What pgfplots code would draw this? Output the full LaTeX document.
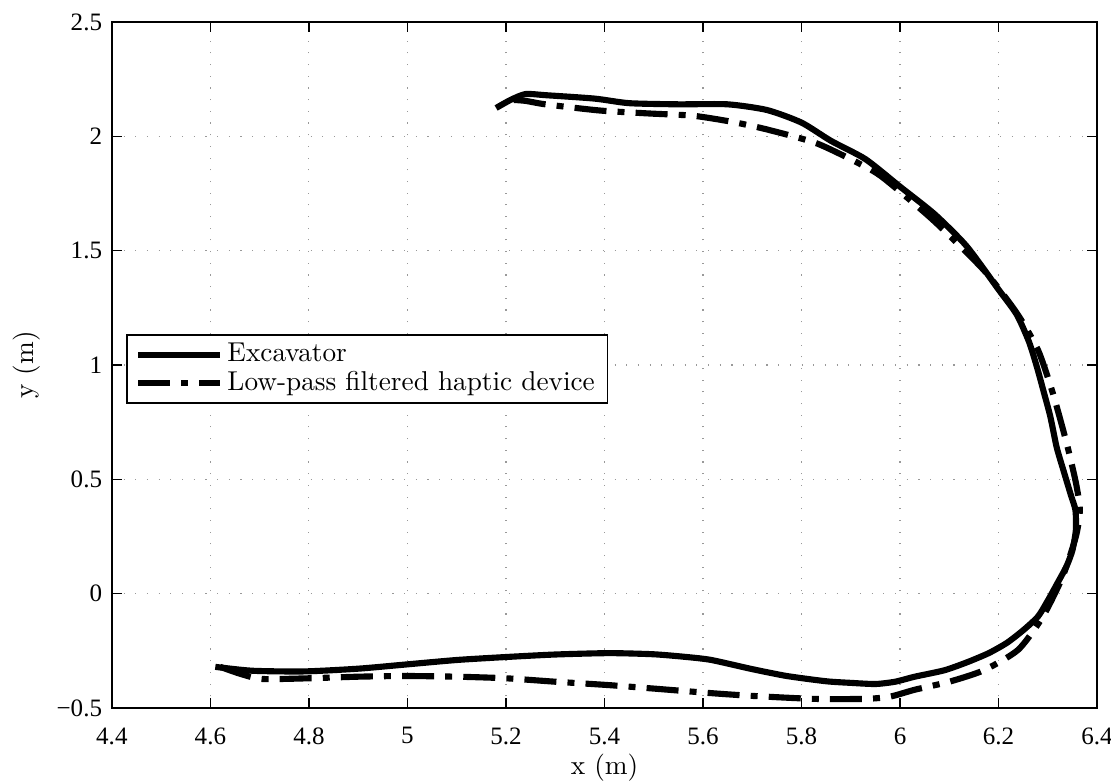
\documentclass[border=0pt]{standalone}
\usepackage{fontspec}
\usepackage{pgfplots}
\pgfplotsset{compat=1.18}
\newfontfamily\tfont{Liberation Serif}

\begin{document}
\begin{tikzpicture}
\begin{axis}[
    scale only axis,
    width=354pt,
    height=246.5pt,
    xmin=4.4, xmax=6.4,
    ymin=-0.5, ymax=2.5,
    xtick={4.4,4.6,4.8,5,5.2,5.4,5.6,5.8,6,6.2,6.4},
    xticklabels={4.4,4.6,4.8,5,5.2,5.4,5.6,5.8,6,6.2,6.4},
    ytick={-0.5,0,0.5,1,1.5,2,2.5},
    yticklabels={−0.5,0,0.5,1,1.5,2,2.5},
    tick label style={font=\tfont\fontsize{9}{10}\selectfont},
    xticklabel style={yshift=-3.5pt},
    /pgf/number format/assume math mode=true,
    tick align=inside,
    major tick length=3.6pt,
    axis line style={line width=0.7pt},
    every tick/.style={black, line width=0.5pt},
    grid=major,
    major grid style={gray!80, line width=0.4pt, dash pattern=on 0.4pt off 3.8pt},
    xlabel={x (m)},
    ylabel={y (m)},
    label style={font=\fontsize{9.8}{11}\selectfont},
    xlabel style={at={([yshift=-21.6pt]axis description cs:0.5,0)}, anchor=center},
    ylabel style={at={([xshift=-30.5pt]axis description cs:0,0.5)}, anchor=center},
    legend style={at={(0.0142,0.545)}, anchor=north west, draw=black, line width=0.6pt,
        font=\fontsize{9.8}{11}\selectfont, inner xsep=3pt, inner ysep=1.5pt,
        row sep=-1.2pt, nodes={inner sep=1.5pt}},
    legend cell align=left,
    legend image code/.code={\draw[#1] (0pt,0pt) -- (29.5pt,0pt);},
]
% excavator trajectory
\addplot[black, line width=2.2pt, line join=round, smooth, tension=0.4] coordinates {
(4.61,-0.32) (4.685,-0.337) (4.79,-0.34) (4.9,-0.328) (4.995,-0.31) (5.1,-0.29)
(5.20,-0.277) (5.3,-0.266) (5.41,-0.26) (5.5,-0.265) (5.567,-0.277) (5.617,-0.29)
(5.7,-0.33) (5.77,-0.36) (5.85,-0.383) (5.9,-0.39) (5.95,-0.395) (5.99,-0.385)
(6.03,-0.363) (6.09,-0.335) (6.136,-0.30) (6.18,-0.26) (6.217,-0.215) (6.25,-0.16)
(6.28,-0.10) (6.30,-0.03) (6.32,0.048) (6.338,0.12) (6.35,0.19) (6.357,0.28)
(6.356,0.366) (6.347,0.43) (6.333,0.53) (6.318,0.64) (6.305,0.775) (6.292,0.88)
(6.278,0.99) (6.262,1.10) (6.237,1.22) (6.20,1.33) (6.135,1.52) (6.07,1.66)
(6.00,1.78) (5.93,1.90) (5.86,1.98) (5.80,2.06) (5.73,2.115) (5.65,2.14)
(5.55,2.14) (5.45,2.145) (5.38,2.165) (5.28,2.18) (5.24,2.185) (5.21,2.16) (5.18,2.124)
};
\addlegendentry{Excavator}
% low-pass filtered haptic device
\addplot[black, line width=2.2pt, smooth, tension=0.4, dash pattern=on 11.5pt off 4pt on 2.5pt off 4pt] coordinates {
(4.62,-0.32) (4.66,-0.35) (4.705,-0.373) (4.8,-0.37) (4.9,-0.363) (4.995,-0.36)
(5.1,-0.363) (5.2,-0.37) (5.3,-0.385) (5.41,-0.40) (5.5,-0.415) (5.617,-0.435)
(5.7,-0.447) (5.825,-0.46) (5.93,-0.46) (5.98,-0.45) (6.03,-0.42) (6.1,-0.385)
(6.17,-0.335) (6.24,-0.245) (6.29,-0.10) (6.33,0.074) (6.357,0.25) (6.365,0.366)
(6.357,0.485) (6.338,0.66) (6.31,0.878) (6.28,1.066) (6.237,1.227) (6.17,1.415)
(6.067,1.634) (5.965,1.82) (5.918,1.88) (5.83,1.97) (5.73,2.03) (5.66,2.063)
(5.58,2.09) (5.49,2.10) (5.39,2.113) (5.28,2.14) (5.24,2.155) (5.21,2.16)
};
\addlegendentry{Low-pass filtered haptic device}
\end{axis}
\pgfresetboundingbox
\path[use as bounding box] ([shift={(-40.2pt,-27pt)}]current axis.south west)
    rectangle ([shift={(5pt,7.9pt)}]current axis.north east);
\end{tikzpicture}
\end{document}
